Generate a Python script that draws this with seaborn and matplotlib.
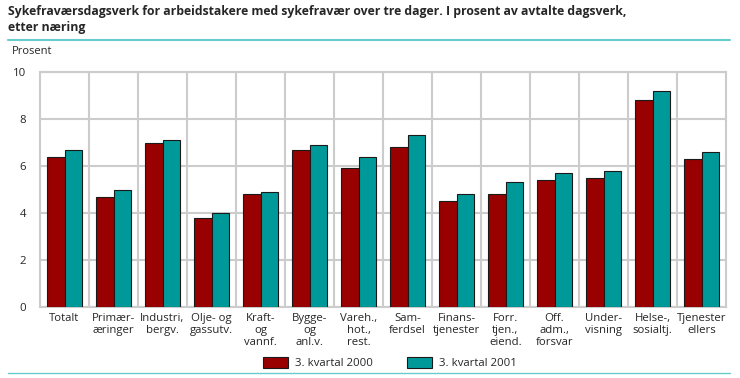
import pandas as pd
import seaborn as sns
import matplotlib.pyplot as plt
import numpy as np
from matplotlib.lines import Line2D

# Data
categories = ["Totalt", "Primær-\næringer", "Industri,\nbergv.", "Olje- og\ngassutv.",
              "Kraft-\nog\nvannf.", "Bygge-\nog\nanl.v.", "Vareh.,\nhot.,\nrest.",
              "Sam-\nferdsel", "Finans-\ntjenester", "Forr.\ntjen.,\neiend.",
              "Off.\nadm.,\nforsvar", "Under-\nvisning", "Helse-,\nsosialtj.", "Tjenester\nellers"]
q3_2000 = [6.4, 4.7, 7.0, 3.8, 4.8, 6.7, 5.9, 6.8, 4.5, 4.8, 5.4, 5.5, 8.8, 6.3]
q3_2001 = [6.7, 5.0, 7.1, 4.0, 4.9, 6.9, 6.4, 7.3, 4.8, 5.3, 5.7, 5.8, 9.2, 6.6]
series = ["3. kvartal 2000", "3. kvartal 2001"]
colors = ["#990000", "#009999"]

df = pd.DataFrame({"kategori": categories * 2,
                   "verdi": q3_2000 + q3_2001,
                   "serie": [series[0]] * len(categories) + [series[1]] * len(categories)})

sns.set_style("white")
plt.rcParams['font.family'] = ['Open Sans', 'DejaVu Sans']

fig = plt.figure(figsize=(7.4, 3.78), dpi=100)
ax = fig.add_axes([40 / 740, 1 - 307 / 378, 686 / 740, 235 / 378])

sns.barplot(data=df, x="kategori", y="verdi", hue="serie", palette=colors,
            saturation=1, width=0.72, gap=0, edgecolor="#1a1a1a", linewidth=0.8,
            ax=ax, legend=True, zorder=3)

ax.set_ylim(0, 10)
ax.set_xlim(-0.5, len(categories) - 0.5)
ax.set_yticks([0, 2, 4, 6, 8, 10])
ax.set_xticks(np.arange(len(categories)))
ax.set_xticklabels(categories, fontsize=8.2, linespacing=1.15)
ax.set_xticks(np.arange(len(categories) - 1) + 0.5, minor=True)
ax.tick_params(axis="both", which="both", length=0, pad=4)
ax.tick_params(axis="y", labelsize=8.2, pad=10)
ax.set_xlabel("")
ax.set_ylabel("")
ax.grid(axis="y", which="major", color="#cccccc", linewidth=1.5, zorder=0)
ax.grid(axis="x", which="minor", color="#cccccc", linewidth=1.5, zorder=0)
ax.set_axisbelow(True)
for s in ax.spines.values():
    s.set_color("#cccccc")
    s.set_linewidth(1.5)

handles, labels = ax.get_legend_handles_labels()
ax.get_legend().remove()
fig.legend(handles, labels, loc="center", bbox_to_anchor=(390 / 740, 1 - 363 / 378),
           ncol=2, frameon=False, fontsize=8.2, handlelength=2.2, handleheight=1.1,
           columnspacing=3, handletextpad=0.6)

fig.text(8 / 740, 1 - 5 / 378, "Sykefraværsdagsverk for arbeidstakere med sykefravær over tre dager. I prosent av avtalte dagsverk,\netter næring",
         ha="left", va="top", fontsize=8.8, fontweight="bold", linespacing=1.25)
fig.text(12 / 740, 1 - 52 / 378, "Prosent", ha="left", va="center", fontsize=8)
fig.add_artist(Line2D([8 / 740, 730 / 740], [1 - 40 / 378] * 2, color="#66cccc", lw=1.5))
fig.add_artist(Line2D([8 / 740, 730 / 740], [1 - 373 / 378] * 2, color="#66cccc", lw=1.0))

fig.savefig("out.png", dpi=100)
